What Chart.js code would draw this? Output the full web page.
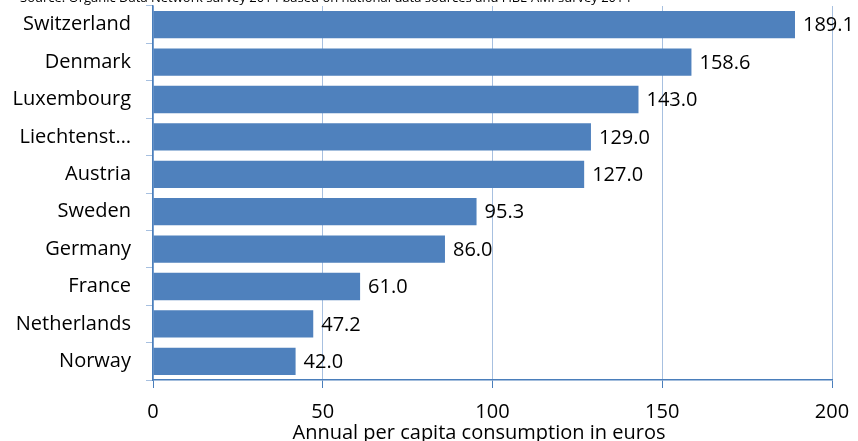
<!DOCTYPE html>
<html>
<head>
<meta charset="utf-8">
<script src="https://cdn.jsdelivr.net/npm/chart.js"></script>
<style>
  body { margin: 0; background: #fff; }
  #wrap { width: 858px; height: 441px; }
</style>
</head>
<body>
<div id="wrap"><canvas id="consumptionChart" width="858" height="441"></canvas></div>
<script>
const countries = ['Switzerland', 'Denmark', 'Luxembourg', 'Liechtenst…', 'Austria',
  'Sweden', 'Germany', 'France', 'Netherlands', 'Norway'];
const perCapita = [189.1, 158.6, 143.0, 129.0, 127.0, 95.3, 86.0, 61.0, 47.2, 42.0];
const xTicks = [0, 50, 100, 150, 200];
const axisTitle = 'Annual per capita consumption in euros';
const sourceNote = 'Source: Organic Data Network survey 2014 based on national data sources and FiBL-AMI survey 2014';

const FONT = '"Open Sans", sans-serif';

// value labels next to each bar + the clipped source line and axis title
const extras = {
  id: 'extras',
  afterDatasetsDraw(chart) {
    const ctx = chart.ctx;
    const meta = chart.getDatasetMeta(0);
    ctx.save();
    ctx.font = '20px ' + FONT;
    ctx.fillStyle = '#000';
    ctx.textAlign = 'left';
    ctx.textBaseline = 'middle';
    meta.data.forEach((bar, i) => {
      ctx.fillText(perCapita[i].toFixed(1), bar.x + 8, bar.y + 1);
    });

    ctx.textAlign = 'center';
    ctx.textBaseline = 'alphabetic';
    ctx.fillText(axisTitle, 479, 439);

    ctx.font = '13px ' + FONT;
    ctx.textAlign = 'left';
    ctx.fillText(sourceNote, 20, 2);
    ctx.restore();
  }
};

const ctx = document.getElementById('consumptionChart').getContext('2d');

const chart = new Chart(ctx, {
  type: 'bar',
  data: {
    labels: countries,
    datasets: [{
      data: perCapita,
      backgroundColor: '#4f81bd',
      borderWidth: 0,
      categoryPercentage: 1,
      barPercentage: 0.73,
    }],
  },
  options: {
    indexAxis: 'y',
    responsive: false,
    animation: false,
    layout: { padding: { top: 6, right: 26, left: 0, bottom: 0 } },
    plugins: {
      legend: { display: false },
      tooltip: { enabled: false },
    },
    scales: {
      x: {
        min: 0,
        max: 200,
        afterBuildTicks(axis) {
          axis.ticks = xTicks.map(v => ({ value: v }));
        },
        afterFit(axis) {
          axis.height = 61;
          axis.paddingLeft = 0;
          axis.paddingRight = 0;
        },
        grid: {
          color: '#a7c0e0',
          lineWidth: 1,
          tickLength: 8,
          tickColor: '#4a7ebb',
        },
        border: { color: '#4a7ebb', width: 1.5 },
        ticks: {
          font: { family: FONT, size: 20 },
          color: '#000',
          padding: 12,
          maxRotation: 0,
        },
      },
      y: {
        afterFit(axis) {
          axis.width = 153;
          axis.paddingTop = 0;
          axis.paddingBottom = 0;
        },
        grid: {
          drawOnChartArea: false,
          color: '#a7c0e0',
          tickLength: 7,
          offset: true,
        },
        border: { color: '#4a7ebb', width: 1.5 },
        ticks: {
          font: { family: FONT, size: 20 },
          color: '#000',
          padding: 15,
          autoSkip: false,
        },
      },
    },
  },
  plugins: [extras],
});
</script>
</body>
</html>
